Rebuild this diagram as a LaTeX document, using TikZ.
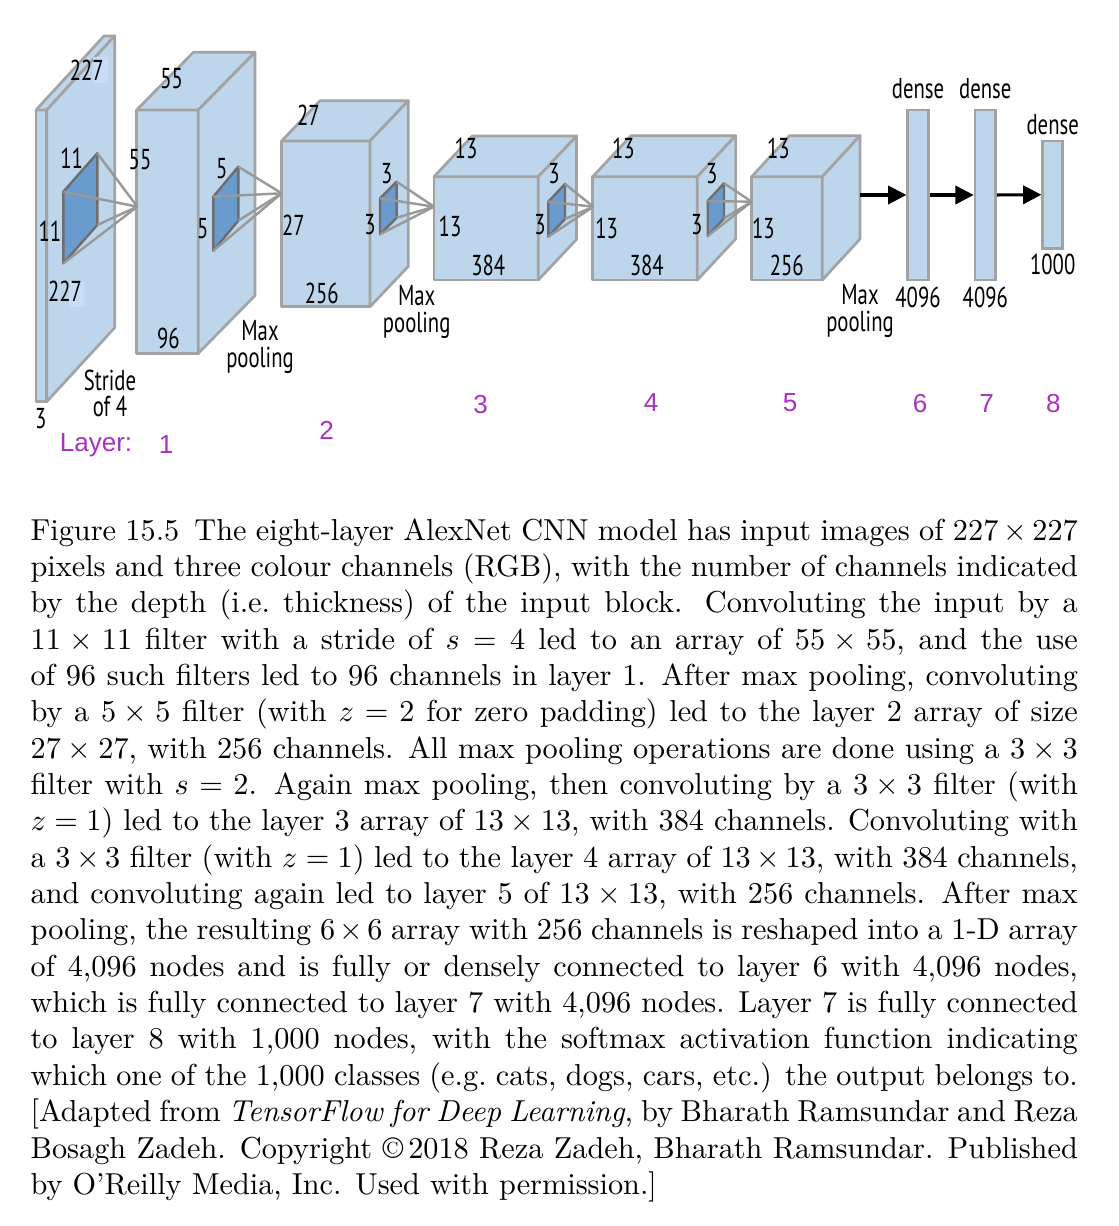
\documentclass[tikz,border=0pt]{standalone}
\usepackage{fontspec}
\usepackage{tikz}
\usetikzlibrary{arrows.meta}
\newfontfamily\labfont{PT Sans}[FakeStretch=0.72]
\newfontfamily\layfont{Liberation Sans}
\definecolor{blockfill}{HTML}{BDD6EC}
\definecolor{blockedge}{HTML}{A3A3A3}
\definecolor{filterfill}{HTML}{6A9BCF}
\definecolor{filteredge}{HTML}{6E6E6E}
\definecolor{raycol}{HTML}{999999}
\definecolor{layercol}{HTML}{AA30C2}
\definecolor{hilite}{HTML}{C8DBF7}
\tikzset{
  block/.style={fill=blockfill, draw=blockedge, line width=0.9pt, line join=round},
  filt/.style={fill=filterfill, draw=filteredge, line width=0.8pt, line join=round},
  ray/.style={draw=raycol, line width=0.8pt},
  fwd/.style={draw=black, line width=1pt, -{Triangle[length=6pt,width=6pt]}},
  bar/.style={fill=blockfill, draw=blockedge, line width=0.9pt, inner sep=0pt},
  dim/.style={font=\labfont\fontsize{9.5}{8.8}\selectfont, inner sep=0pt},
  lay/.style={font=\layfont\fontsize{8.6}{9}\selectfont, text=layercol, inner sep=0pt},
  captext/.style={font=\fontsize{10}{12}\selectfont, text width=345.7pt, align=justify, inner sep=0pt},
}
% cuboid: name, front top-left x, y, width, height, depth dx, rise dy
\newcommand{\cuboid}[7]{%
  \draw[block] (#2,#3) rectangle ++(#4,#5);
  \draw[block] (#2,#3) -- ++(#6,-#7) -- ++(#4,0) -- ++(-#6,#7) -- cycle;
  \draw[block] (#2+#4,#3) -- ++(#6,-#7) -- ++(0,#5) -- ++(-#6,#7) -- cycle;
  \coordinate (#1-side) at (#2+#4+#6,#3-#7+#5/2);
}
% filter patch: name, left x, left top y, right x, right top y, height
\newcommand{\filterpatch}[6]{%
  \coordinate (#1-tl) at (#2,#3);
  \coordinate (#1-tr) at (#4,#5);
  \coordinate (#1-br) at (#4,#5+#6);
  \coordinate (#1-bl) at (#2,#3+#6);
  \draw[filt] (#1-tl) -- (#1-tr) -- (#1-br) -- (#1-bl) -- cycle;
}

\begin{document}
\begin{tikzpicture}[x=0.3301pt, y=-0.3301pt]
  \useasboundingbox (0,0) rectangle (1118,1226);

  % convolution blocks
  \cuboid{b1}{36}{110}{10.7}{291.7}{68}{74}
  \cuboid{b2}{136.7}{110}{61.6}{243.3}{56.7}{57.7}
  \cuboid{b3}{281.7}{141}{88.3}{165.7}{38.3}{40.3}
  \cuboid{b4}{434}{176.7}{104.3}{103.3}{38.3}{40.7}
  \cuboid{b5}{592.7}{176.7}{104.6}{103.3}{38.3}{41}
  \cuboid{b6}{751.7}{176.7}{70.6}{103.3}{37.7}{41}
  \fill[hilite] (93.3,56.7) rectangle (108.3,83.3);
  \fill[hilite] (69.3,281.7) rectangle (85,306.7);

  % filters and their receptive fields
  \filterpatch{f1}{63.3}{191.7}{97.3}{153.3}{71.7}
  \filterpatch{f2}{213.3}{196.7}{238.3}{166.7}{54}
  \filterpatch{f3}{380}{198.3}{396.7}{181.7}{36}
  \filterpatch{f4}{548.3}{201.7}{565}{184}{35}
  \filterpatch{f5}{707.7}{201}{724}{183.3}{35}
  \coordinate (a1) at (137.3,206.7);
  \coordinate (a2) at (281.7,193.3);
  \coordinate (a3) at (434,206.7);
  \coordinate (a4) at (593.3,206.7);
  \coordinate (a5) at (751.7,201.7);
  \foreach \f/\a in {f1/a1,f2/a2,f3/a3,f4/a4,f5/a5}
    \foreach \c in {tl,tr,br,bl}
      \draw[ray] (\f-\c) -- (\a);

  % dense layers
  \node[bar, minimum width=6.8pt, minimum height=56.1pt] (d6) at (918,195) {};
  \node[bar, minimum width=6.8pt, minimum height=56.1pt] (d7) at (985.3,195) {};
  \node[bar, minimum width=6.6pt, minimum height=35.4pt] (d8) at (1052.7,194.7) {};
  \coordinate (b6-out) at (860,195);
  \draw[fwd] (b6-out) -- (d6.west);
  \draw[fwd] (d6.east) -- (d7.west);
  \draw[fwd] (d7.east) -- (d8.west);

  % sizes
  \foreach \n/\x/\y/\t in {
      s1a/86.7/70/227, s1b/71.7/158.3/11, s1c/50/231.7/11, s1d/65/291.7/227, s1e/40.7/418.3/3,
      s2a/171.7/78.3/55, s2b/140/160/55, s2c/168.3/338.3/96, s2d/221.7/168.3/5, s2e/202.7/228.3/5,
      s3a/308.3/115/27, s3b/293.3/225/27, s3c/321.7/293.3/256, s3d/386.7/173.3/3, s3e/370/225/3,
      s4a/466/148.3/13, s4b/450/226.7/13, s4c/488.3/265/384, s4d/554/173.3/3, s4e/540/225/3,
      s5a/623.3/148.3/13, s5b/606.7/228.3/13, s5c/646.7/265/384, s5d/711.7/173.3/3, s5e/696.7/225/3,
      s6a/778.3/148.3/13, s6b/763.3/228.3/13, s6c/786.7/265/256,
      t6a/918/89/dense, t7a/985.3/89/dense, t8a/1052.7/125/dense,
      t6b/918/297/4096, t7b/985.3/297/4096, t8b/1052.7/264/1000}
    \node[dim] (\n) at (\x,\y) {\t};
  \node[dim, align=center] (stride) at (110,393.3) {Stride\\of 4};
  \node[dim, align=center] (pool1) at (260,346.7) {Max\\pooling};
  \node[dim, align=center] (pool2) at (416.7,311.7) {Max\\pooling};
  \node[dim, align=center] (pool3) at (860,311) {Max\\pooling};

  % layer numbers
  \node[lay] (layer) at (96,445) {Layer:};
  \foreach \n/\x/\y in {1/166/445, 2/326.7/430, 3/480.7/405, 4/651/402.3,
      5/790/402.3, 6/920/403.3, 7/986.7/403.3, 8/1053.3/403.3}
    \node[lay] (l\n) at (\x,\y) {\n};

  % caption
  \node[captext, anchor=base west] (caption) at (30,540) {%
    Figure 15.5\enspace The eight-layer AlexNet CNN model has input images of $227\times227$\linebreak
    pixels and three colour channels (RGB), with the number of channels indicated\linebreak
    by the depth (i.e.\ thickness) of the input block. Convoluting the input by a\linebreak
    $11\times11$ filter with a stride of $s=4$ led to an array of $55\times55$, and the use\linebreak
    of 96 such filters led to 96 channels in layer 1. After max pooling, convoluting\linebreak
    by a $5\times5$ filter (with $z=2$ for zero padding) led to the layer 2 array of size\linebreak
    $27\times27$, with 256 channels. All max pooling operations are done using a $3\times3$\linebreak
    filter with $s=2$. Again max pooling, then convoluting by a $3\times3$ filter (with\linebreak
    $z=1$) led to the layer 3 array of $13\times13$, with 384 channels. Convoluting with\linebreak
    a $3\times3$ filter (with $z=1$) led to the layer 4 array of $13\times13$, with 384 channels,\linebreak
    and convoluting again led to layer 5 of $13\times13$, with 256 channels. After max\linebreak
    pooling, the resulting $6\times6$ array with 256 channels is reshaped into a 1-D array\linebreak
    of 4,096 nodes and is fully or densely connected to layer 6 with 4,096 nodes,\linebreak
    which is fully connected to layer 7 with 4,096 nodes. Layer 7 is fully connected\linebreak
    to layer 8 with 1,000 nodes, with the softmax activation function indicating\linebreak
    which one of the 1,000 classes (e.g.\ cats, dogs, cars, etc.) the output belongs to.\linebreak
    {[}Adapted from \textit{TensorFlow for Deep Learning}, by Bharath Ramsundar and Reza\linebreak
    Bosagh Zadeh. Copyright \textcopyright\,2018 Reza Zadeh, Bharath Ramsundar. Published\linebreak
    by O'Reilly Media, Inc. Used with permission.]};
\end{tikzpicture}
\end{document}
